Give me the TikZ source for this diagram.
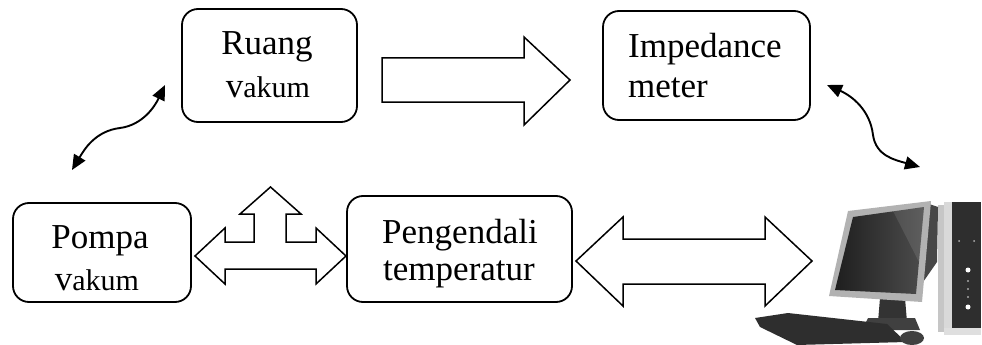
\documentclass[tikz,border=0pt]{standalone}
\usepackage{fontspec}
\setmainfont{Liberation Serif}
\usetikzlibrary{arrows.meta}
% "vakum" is set with a slightly larger initial v
\newcommand\vakumword{{\fontsize{35}{40}\selectfont v}{\fontsize{30}{40}\selectfont akum}}
\begin{document}
\begin{tikzpicture}[x=1pt,y=-1pt,
  box/.style={draw, line width=1.8pt, rounded corners=16pt, inner sep=0pt},
  lbl/.style={inner sep=0pt, anchor=base, font=\fontsize{35}{40}\selectfont},
  lbll/.style={lbl, anchor=base west},
  fat/.style={draw, line width=1.5pt, fill=white, line join=miter},
  wave/.style={line width=1.9pt, {Triangle[length=15pt,width=13pt]}-{Triangle[length=15pt,width=13pt]}}
]
\useasboundingbox (0,0) rectangle (982,345);

% ---- blocks ----
\node[box, minimum width=175pt, minimum height=113pt] (ruang) at (269.5,65.5) {};
\node[box, minimum width=207pt, minimum height=109pt] (imp)   at (706.5,65.5) {};
\node[box, minimum width=178pt, minimum height=99pt]  (pompa) at (102,252.5) {};
\node[box, minimum width=225pt, minimum height=106pt] (peng)  at (459.5,249) {};

% ---- labels ----
\node[lbl]  (ruang-a) at (267,55)  {Ruang};
\node[lbl]  (ruang-b) at (268,97)  {\vakumword};
\node[lbll] (imp-a)   at (628,57)  {Impedance};
\node[lbll] (imp-b)   at (628,97)  {meter};
\node[lbl]  (pompa-a) at (100,248) {Pompa};
\node[lbl]  (pompa-b) at (97,290)  {\vakumword};
\node[lbl]  (peng-a)  at (460,243) {Pengendali};
\node[lbl]  (peng-b)  at (459,280) {temperatur};

% ---- block arrows ----
% vacuum chamber -> impedance meter
\draw[fat] (382,58) -- (524,58) -- (524,37) -- (570,80) -- (524,125)
  -- (524,102) -- (382,102) -- cycle;
% temperature controller <-> computer
\draw[fat] (576,261) -- (623,217) -- (623,239) -- (765,239) -- (765,217)
  -- (812,261) -- (765,306) -- (765,284) -- (623,284) -- (623,306) -- cycle;
% three-way arrow: pump, chamber, controller
\draw[fat] (195,256) -- (225,228) -- (225,242) -- (254,242) -- (254,214)
  -- (240,214) -- (270.5,187) -- (301,214) -- (286,214) -- (286,242)
  -- (316,242) -- (316,228) -- (346,256) -- (316,284) -- (316,269)
  -- (225,269) -- (225,284) -- cycle;

% ---- wavy double arrows ----
\coordinate (w1) at (72,170);
\coordinate (w2) at (165,85);
\draw[wave] (w1) .. controls (84,150) and (95,131) .. (120,128)
  .. controls (143,125) and (155,106) .. (w2);
\coordinate (e1) at (827,85);
\coordinate (e2) at (920,167);
\draw[wave] (e1) .. controls (852,96) and (870,110) .. (873,135)
  .. controls (876,156) and (895,160) .. (e2);

% ---- computer ----
% tower
\fill[gray!45] (938,205) rectangle (945,332);
\fill[gray!30] (944,202) rectangle (952,335);
\fill[black!82] (952,202) rectangle (981,328);
\fill[gray!25] (944,328) rectangle (981,335);
\fill[white] (968,270) circle (2.5);
\fill[white] (968,307) circle (2.5);
\fill[gray!70] (968,281) circle (1.2) (968,289) circle (1.2) (968,297) circle (1.2);
\fill[gray!60] (959,241) circle (1) (974,241) circle (1);
% monitor housing
\fill[black!72] (926,203) -- (938,207) -- (937,262) -- (921,285) -- cycle;
% stand
\fill[black!80] (880,298) -- (905,298) -- (907,322) -- (878,322) -- cycle;
\fill[black!75] (868,318) -- (915,318) -- (920,330) -- (862,330) -- cycle;
% bezel and screen
\fill[gray!60] (848,211) -- (931,201) -- (922,302) -- (829,296) -- cycle;
\shade[left color=black!88, right color=black!70]
  (853,217) -- (924,207) -- (916,294) -- (835,290) -- cycle;
\fill[white, opacity=0.10] (893,211) -- (924,207) -- (919,262) -- cycle;
% keyboard and mouse
\fill[black!82] (755,318) -- (788,313) -- (887,324) -- (906,342)
  -- (797,345) -- (760,327) -- cycle;
\fill[black!75] (912,338) ellipse (12 and 7);
\end{tikzpicture}
\end{document}
